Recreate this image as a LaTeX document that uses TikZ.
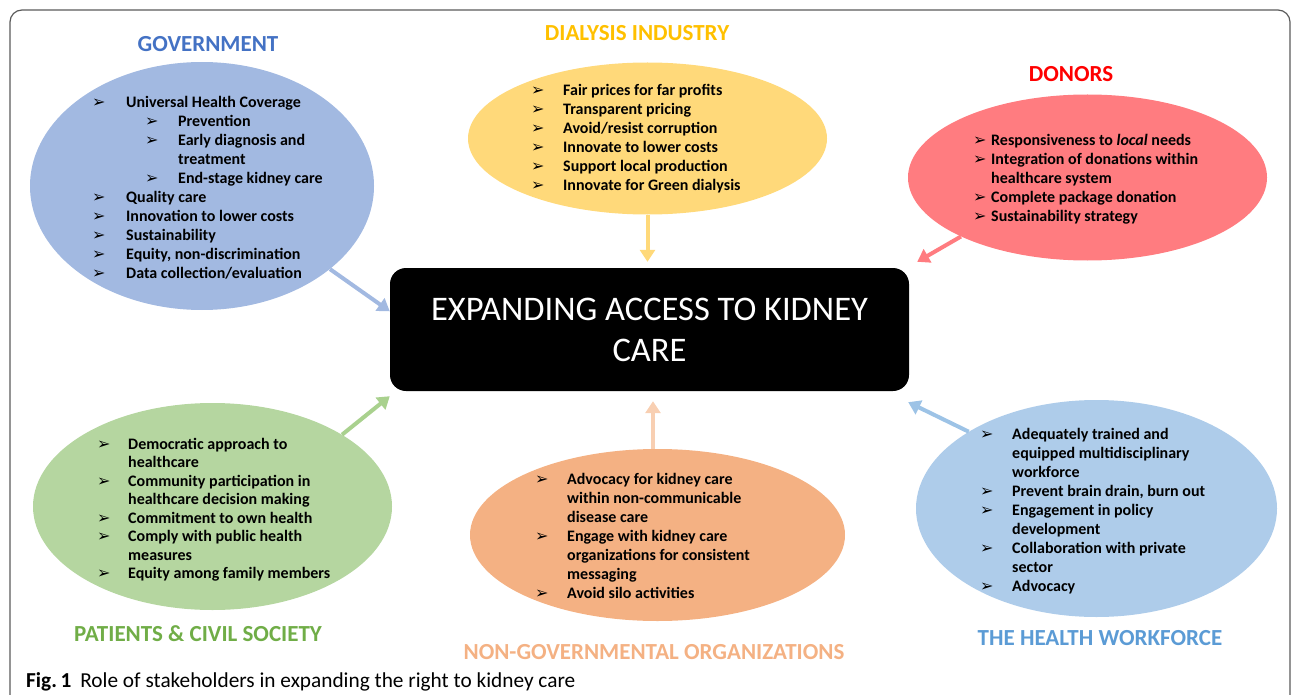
\documentclass[tikz,border=0pt]{standalone}
\usepackage{fontspec}
\setmainfont{Carlito}
\newfontfamily\dvfont{DejaVu Sans}
\usetikzlibrary{shapes.geometric,arrows.meta,calc}

\definecolor{framegray}{HTML}{5A5A5A}
\definecolor{govfill}{HTML}{A2B9E1}
\definecolor{govtitle}{HTML}{4472C4}
\definecolor{dialfill}{HTML}{FFD97A}
\definecolor{dialtitle}{HTML}{FFC000}
\definecolor{donfill}{HTML}{FF7C80}
\definecolor{dontitle}{HTML}{FF0000}
\definecolor{patfill}{HTML}{B5D6A0}
\definecolor{patarrow}{HTML}{A9D18E}
\definecolor{pattitle}{HTML}{70AD47}
\definecolor{ngofill}{HTML}{F4B183}
\definecolor{ngoarrow}{HTML}{F8CFB2}
\definecolor{ngotitle}{HTML}{F4B183}
\definecolor{hwfill}{HTML}{AECCEA}
\definecolor{hwarrow}{HTML}{9DC3E6}
\definecolor{hwtitle}{HTML}{5B9BD5}

\newcommand{\bl}[1]{\makebox[#1][l]{\dvfont\fontsize{16}{19}\selectfont ➢}}

\tikzset{
  frameline/.style={draw=framegray, line width=1.2pt, rounded corners=12pt},
  stakeholder/.style={ellipse, inner sep=0pt, draw=none},
  grouptitle/.style={anchor=base, inner sep=0pt, font=\fontsize{23}{27}\selectfont\bfseries},
  lst/.style={anchor=base west, inner sep=0pt, font=\fontsize{16}{19}\selectfont\bfseries},
  conn/.style={line width=4pt, -{Triangle[width=15pt,length=12pt]}},
}

\begin{document}
\begin{tikzpicture}[x=1pt,y=-1pt]
\useasboundingbox (0,0) rectangle (1292,695);

\draw[frameline] (10,695) -- (10,10) -- (1290,10) -- (1290,695);

% ellipses
\node[stakeholder, fill=govfill, minimum width=344pt, minimum height=248pt] (gov) at (202,186) {};
\node[stakeholder, fill=dialfill, minimum width=359pt, minimum height=152pt] (dial) at (647.5,138.5) {};
\node[stakeholder, fill=donfill, minimum width=359pt, minimum height=166pt] (don) at (1087.5,177.5) {};
\node[stakeholder, fill=patfill, minimum width=359pt, minimum height=207pt] (pat) at (212.5,506.5) {};
\node[stakeholder, fill=ngofill, minimum width=375pt, minimum height=172pt] (ngo) at (657.5,535) {};
\node[stakeholder, fill=hwfill, minimum width=361pt, minimum height=217pt] (hw) at (1096.5,508.5) {};

% central box
\node[fill=black, rounded corners=16pt, minimum width=519pt, minimum height=123pt,
      text=white, align=center, font=\fontsize{34.5}{41}\selectfont] (box) at (649.5,329.5)
  {EXPANDING ACCESS TO KIDNEY\\CARE};

% titles
\node[grouptitle, text=govtitle] (tgov) at (208,52) {GOVERNMENT};
\node[grouptitle, text=dialtitle] (tdial) at (637,41) {DIALYSIS INDUSTRY};
\node[grouptitle, text=dontitle] (tdon) at (1071,82) {DONORS};
\node[grouptitle, text=pattitle] (tpat) at (198,641) {PATIENTS \& CIVIL SOCIETY};
\node[grouptitle, text=ngotitle] (tngo) at (654,659) {NON-GOVERNMENTAL ORGANIZATIONS};
\node[grouptitle, text=hwtitle] (thw) at (1100,645) {THE HEALTH WORKFORCE};

% lists
\node[lst] (lgov) at (92,108) {\begin{tabular}[t]{@{}l@{}}
\bl{34pt}Universal Health Coverage\\
\hspace{34pt}\hspace{19pt}\bl{33pt}Prevention\\
\hspace{34pt}\hspace{19pt}\bl{33pt}Early diagnosis and\\
\hspace{86pt}treatment\\
\hspace{34pt}\hspace{19pt}\bl{33pt}End-stage kidney care\\
\bl{34pt}Quality care\\
\bl{34pt}Innovation to lower costs\\
\bl{34pt}Sustainability\\
\bl{34pt}Equity, non-discrimination\\
\bl{34pt}Data collection/evaluation
\end{tabular}};

\node[lst] (ldial) at (531,96) {\begin{tabular}[t]{@{}l@{}}
\bl{32pt}Fair prices for far profits\\
\bl{32pt}Transparent pricing\\
\bl{32pt}Avoid/resist corruption\\
\bl{32pt}Innovate to lower costs\\
\bl{32pt}Support local production\\
\bl{32pt}Innovate for Green dialysis
\end{tabular}};

\node[lst] (ldon) at (973,146) {\begin{tabular}[t]{@{}l@{}}
\bl{18pt}Responsiveness to \textit{local} needs\\
\bl{18pt}Integration of donations within\\
\hspace{18pt}healthcare system\\
\bl{18pt}Complete package donation\\
\bl{18pt}Sustainability strategy
\end{tabular}};

\node[lst, font=\fontsize{16}{18.5}\selectfont\bfseries] (lpat) at (97,449) {\begin{tabular}[t]{@{}l@{}}
\bl{31pt}Democratic approach to\\
\hspace{31pt}healthcare\\
\bl{31pt}Community participation in\\
\hspace{31pt}healthcare decision making\\
\bl{31pt}Commitment to own health\\
\bl{31pt}Comply with public health\\
\hspace{31pt}measures\\
\bl{31pt}Equity among family members
\end{tabular}};

\node[lst] (lngo) at (535,484) {\begin{tabular}[t]{@{}l@{}}
\bl{32pt}Advocacy for kidney care\\
\hspace{32pt}within non-communicable\\
\hspace{32pt}disease care\\
\bl{32pt}Engage with kidney care\\
\hspace{32pt}organizations for consistent\\
\hspace{32pt}messaging\\
\bl{32pt}Avoid silo activities
\end{tabular}};

\node[lst] (lhw) at (980,439) {\begin{tabular}[t]{@{}l@{}}
\bl{32pt}Adequately trained and\\
\hspace{32pt}equipped multidisciplinary\\
\hspace{32pt}workforce\\
\bl{32pt}Prevent brain drain, burn out\\
\bl{32pt}Engagement in policy\\
\hspace{32pt}development\\
\bl{32pt}Collaboration with private\\
\hspace{32pt}sector\\
\bl{32pt}Advocacy
\end{tabular}};

% connectors
\draw[conn, draw=govfill] (gov.-33) -- (box.176);
\draw[conn, draw=dialfill] (dial.south) -- ($(dial.south |- box.north)+(0,-6)$);
\draw[conn, draw=donfill] (don.205) -- ($(box.north east)+(8,-6)$);
\draw[conn, draw=patarrow] (pat.29.4) -- ($(box.south west)+(0,5)$);
\draw[conn, draw=ngoarrow] (ngo.93) -- ($(ngo.93 |- box.south)+(0,10)$);
\draw[conn, draw=hwarrow] (hw.149.5) -- ($(box.south east)+(-1,11)$);

% caption
\node[anchor=base west, inner sep=0pt, font=\fontsize{21.3}{24}\selectfont] (cap) at (26,687)
  {\textbf{Fig.\,1}\hspace{9pt}Role of stakeholders in expanding the right to kidney care};
\end{tikzpicture}
\end{document}
